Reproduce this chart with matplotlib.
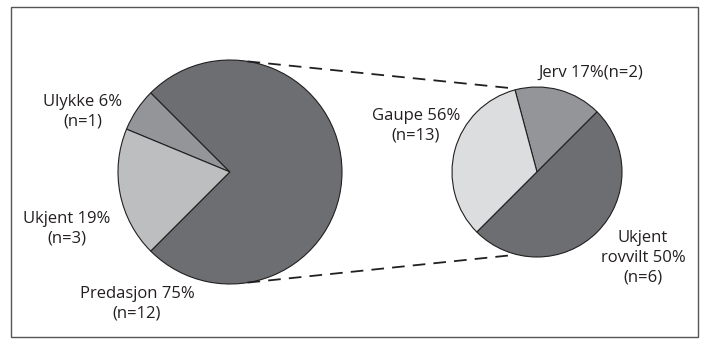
import matplotlib
matplotlib.use('Agg')
import matplotlib.pyplot as plt
import numpy as np
from matplotlib.patches import Rectangle

plt.rcParams['font.family'] = ['Open Sans', 'DejaVu Sans']

# Data
main_labels = ['Ulykke', 'Ukjent', 'Predasjon']
main_counts = [1, 3, 12]
main_text = ['Ulykke 6%\n(n=1)', 'Ukjent 19%\n(n=3)', 'Predasjon 75%\n(n=12)']

sub_labels = ['Jerv', 'Gaupe', 'Ukjent rovvilt']
sub_counts = [2, 4, 6]
sub_text = ['Jerv 17%(n=2)', 'Gaupe 56%\n(n=13)', 'Ukjent\nrovvilt 50%\n(n=6)']

main_colors = ['#939598', '#bcbec0', '#6d6e71']
sub_colors = ['#939598', '#dcddde', '#6d6e71']
text_color = '#231f20'

W, H = 705, 347


def create_pie_of_pie():
    fig = plt.figure(figsize=(W / 100, H / 100), dpi=100)
    ax = fig.add_axes([0, 0, 1, 1])
    ax.set_xlim(0, W)
    ax.set_ylim(0, H)
    ax.set_aspect('equal')
    ax.axis('off')

    # frame
    ax.add_patch(Rectangle((11, 10), 687, 330, fill=False,
                           edgecolor='#555555', linewidth=1.0))

    c1, r1 = (230, 175), 112
    c2, r2 = (537, 175), 85

    ax.pie(main_counts, colors=main_colors, startangle=135, counterclock=True,
           center=c1, radius=r1, frame=True,
           wedgeprops=dict(edgecolor='#231f20', linewidth=0.8))
    ax.pie(sub_counts, colors=sub_colors, startangle=45, counterclock=True,
           center=c2, radius=r2, frame=True,
           wedgeprops=dict(edgecolor='#231f20', linewidth=0.8))
    ax.set_xlim(0, W)
    ax.set_ylim(0, H)
    ax.axis('off')

    # connector lines
    for a1, a2 in [(81, 106), (-81, -107)]:
        p1 = (c1[0] + r1 * np.cos(np.radians(a1)), c1[1] + r1 * np.sin(np.radians(a1)))
        p2 = (c2[0] + (r2 + 2) * np.cos(np.radians(a2)), c2[1] + (r2 + 2) * np.sin(np.radians(a2)))
        ax.plot([p1[0], p2[0]], [p1[1], p2[1]], color='#231f20', lw=1.3,
                linestyle=(0, (7, 4.5)))

    fs = 12
    kw = dict(fontsize=fs, color=text_color, ha='center', va='center', linespacing=1.3)
    ax.text(83, H - 112, main_text[0], **kw)
    ax.text(67, H - 229, main_text[1], **kw)
    ax.text(137, H - 304, main_text[2], **kw)
    ax.text(591, H - 73, sub_text[0], **kw)
    ax.text(416, H - 126, sub_text[1], **kw)
    ax.text(643, H - 258, sub_text[2], **kw)

    fig.savefig('out.png', dpi=100)


if __name__ == "__main__":
    create_pie_of_pie()
